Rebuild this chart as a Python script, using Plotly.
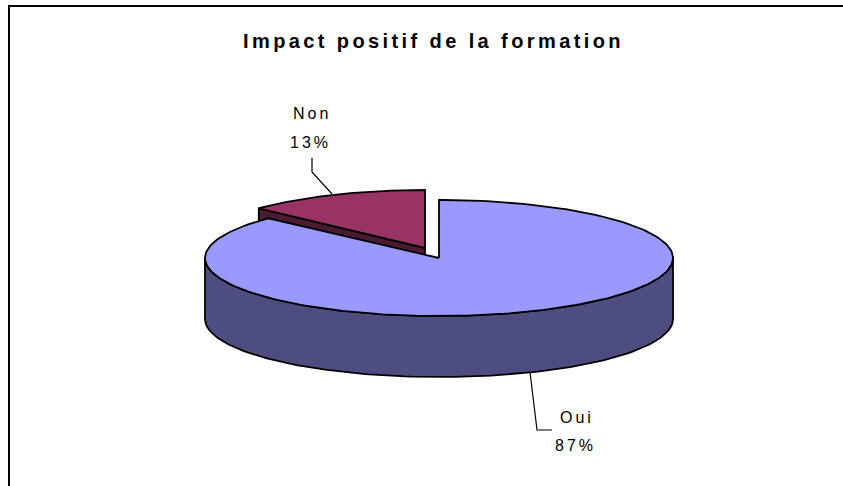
import numpy as np
import plotly.graph_objects as go

labels = ["Oui", "Non"]
values = [87, 13]
percent_text = ["87%", "13%"]
title_text = "Impact positif de la formation"

W, H = 843, 486
A, B, DEPTH = 234, 58, 61
A_NON = 228
OUI_C = (439, 258)
NON_C = (425, 248)
TOP, SIDE = ["#9999FF", "#993366"], ["#4D4D80", "#4D1A33"]
LINE = dict(color="black", width=1.8)

fracs = np.array(values) / sum(values)
non_ang = fracs[1] * 2 * np.pi


def rim(c, t, a=A):
    # t: clockwise angle from 12 o'clock
    return c[0] + a * np.sin(t), c[1] - B * np.cos(t)


def poly(fig, x, y, color):
    fig.add_trace(go.Scatter(x=list(x) + [x[0]], y=list(y) + [y[0]], mode="lines", fill="toself",
                             fillcolor=color, line=LINE, hoverinfo="skip", showlegend=False))


fig = go.Figure()

# Non slice: cut face then top
t = -non_ang
rx, ry = rim(NON_C, t, A_NON)
poly(fig, [NON_C[0], rx, rx, NON_C[0]], [NON_C[1], ry, ry + DEPTH, NON_C[1] + DEPTH], SIDE[1])
ts = np.linspace(-non_ang, 0, 60)
x, y = rim(NON_C, ts, A_NON)
poly(fig, [NON_C[0], *x], [NON_C[1], *y], TOP[1])

# Oui slice: outer wall then top
ts = np.linspace(np.pi / 2, 3 * np.pi / 2, 120)
x, y = rim(OUI_C, ts)
poly(fig, [*x, *x[::-1]], [*y, *(y[::-1] + DEPTH)], SIDE[0])
ts = np.linspace(0, fracs[0] * 2 * np.pi, 240)
x, y = rim(OUI_C, ts)
poly(fig, [OUI_C[0], *x], [OUI_C[1], *y], TOP[0])

# leader lines
for lx, ly in [([332, 312, 312], [194, 172, 158]), ([530, 537, 552], [372, 430, 430])]:
    fig.add_trace(go.Scatter(x=lx, y=ly, mode="lines", line=dict(color="black", width=1.2),
                             hoverinfo="skip", showlegend=False))

FONT = "Liberation Sans, Arial, sans-serif"


def label(txt, x, y, size, bold=False, spacing=3):
    s = f'<span style="letter-spacing:{spacing}px">{txt}</span>'
    if bold:
        s = f"<b>{s}</b>"
    fig.add_annotation(x=x, y=y, text=s, showarrow=False, xanchor="center", yanchor="middle",
                       font=dict(family=FONT, size=size, color="black"))


label(title_text, 433, 41, 20, bold=True, spacing=3.4)
label(labels[1], 312, 113, 16)
label(percent_text[1], 310, 142, 16)
label(labels[0], 577, 417, 16)
label(percent_text[0], 575, 445, 16)

# chart frame
fig.add_shape(type="rect", x0=9, y0=6, x1=W + 20, y1=H + 20, line=dict(color="black", width=2))

fig.update_layout(width=W, height=H, margin=dict(l=0, r=0, t=0, b=0), paper_bgcolor="white",
                  plot_bgcolor="white", showlegend=False,
                  xaxis=dict(range=[0, W], visible=False, fixedrange=True),
                  yaxis=dict(range=[H, 0], visible=False, fixedrange=True))
fig.write_html("out.html", config={"displayModeBar": False},
               post_script="document.body.style.margin='0';document.body.style.overflow='hidden';")
